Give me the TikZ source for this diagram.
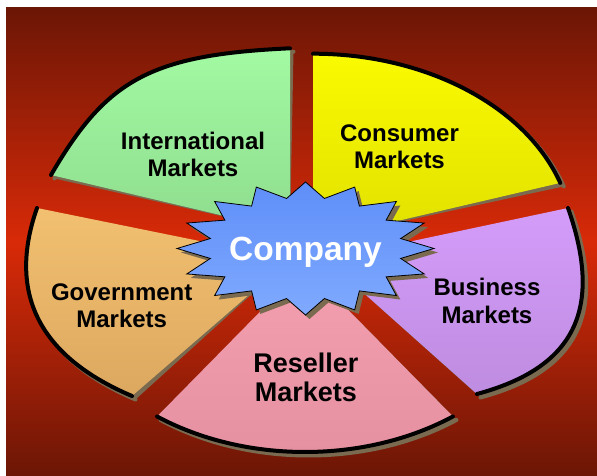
\documentclass[tikz,border=0pt]{standalone}
\usepackage{fontspec}
\setmainfont{Liberation Sans}
\definecolor{bgdark}{HTML}{6C1606}
\definecolor{bgmid}{HTML}{D82A08}
\definecolor{shadowc}{HTML}{7A6A50}
\definecolor{intlTop}{HTML}{A2FAA2}
\definecolor{intlBot}{HTML}{8EDC8E}
\definecolor{consTop}{HTML}{FAFA00}
\definecolor{consBot}{HTML}{E0E000}
\definecolor{busTop}{HTML}{D49CFA}
\definecolor{busBot}{HTML}{BE8CE0}
\definecolor{resTop}{HTML}{F5A0B0}
\definecolor{resBot}{HTML}{E490A0}
\definecolor{govTop}{HTML}{F2C070}
\definecolor{govBot}{HTML}{DCA860}
\definecolor{starTop}{HTML}{5E8EF8}
\definecolor{starBot}{HTML}{80AAFF}
\tikzset{
  arcline/.style={line width=4pt, line cap=round},
  shadowshift/.style={shift={(3.5,-3.5)}},
  marketlabel/.style={font=\bfseries\fontsize{24}{26.7}\selectfont, align=center, inner sep=0pt, text=black},
}
% outer arcs of the five slices
\def\intlArc{(290,427.7) .. controls (150,421.3) and (106.3,396) .. (51,301)}
\def\consArc{([shift={(313,235.3)}]90:260 and 187) arc[start angle=90, end angle=18, x radius=260, y radius=187]}
\def\busArc{(568,268) .. controls (604.3,164.6) and (573,108) .. (477,82)}
\def\resArc{([shift={(305,210)}]234:251.7 and 186) arc[start angle=234, end angle=306, x radius=251.7, y radius=186]}
\def\govArc{(37,268) .. controls (4,174) and (49.2,115.1) .. (132,80)}
\def\starPath{(0:128.5 and 66.5) \foreach \i in {0,...,15}{ -- ({\i*22.5+11.25}:97 and 51) -- ({\i*22.5+22.5}:128.5 and 66.5)} -- cycle}
\begin{document}
\begin{tikzpicture}[x=1pt,y=1pt]
\useasboundingbox (0,0) rectangle (597,476);
\fill[white] (0,0) rectangle (597,476);
\shade[top color=bgdark, bottom color=bgdark, middle color=bgmid] (6,0) rectangle (597,468);
% apexes (hidden under the star)
\coordinate (intlApex) at (290,244.5);
\coordinate (consApex) at (313,235.3);
\coordinate (busApex) at (326,216.6);
\coordinate (resApex) at (305,210);
\coordinate (govApex) at (290,216.6);
% shadows
\begin{scope}[shadowshift]
  \fill[shadowc] (intlApex) -- \intlArc -- cycle;
  \draw[shadowc, arcline] \intlArc;
  \fill[shadowc] (consApex) -- \consArc -- cycle;
  \draw[shadowc, arcline] \consArc;
  \fill[shadowc] (busApex) -- \busArc -- cycle;
  \draw[shadowc, arcline] \busArc;
  \fill[shadowc] (resApex) -- \resArc -- cycle;
  \draw[shadowc, arcline] \resArc;
  \fill[shadowc] (govApex) -- \govArc -- cycle;
  \draw[shadowc, arcline] \govArc;
\end{scope}
% slices
\shade[top color=intlTop, bottom color=intlBot] (intlApex) -- \intlArc -- cycle;
\draw[arcline] \intlArc;
\shade[top color=consTop, bottom color=consBot] (consApex) -- \consArc -- cycle;
\draw[arcline] \consArc;
\shade[top color=busTop, bottom color=busBot] (busApex) -- \busArc -- cycle;
\draw[arcline] \busArc;
\shade[top color=resTop, bottom color=resBot] (resApex) -- \resArc -- cycle;
\draw[arcline] \resArc;
\shade[top color=govTop, bottom color=govBot] (govApex) -- \govArc -- cycle;
\draw[arcline] \govArc;
% star
\begin{scope}[shift={(305.5,227.5)}]
  \fill[shadowc, shift={(4,-4)}] \starPath;
  \shadedraw[top color=starTop, bottom color=starBot, draw=black, line width=0.8pt] \starPath;
\end{scope}
\node[font=\bfseries\fontsize{33.5}{36}\selectfont, text=white, anchor=base, inner sep=0pt] (company) at (305.5,215.3) {Company};
% labels
\node[marketlabel] (intl) at (193,321.3) {International\\Markets};
\node[marketlabel] (cons) at (399.5,329.6) {Consumer\\Markets};
\node[marketlabel] (gov) at (121.7,170.3) {Government\\Markets};
\node[marketlabel, font=\bfseries\fontsize{24}{27.3}\selectfont] (bus) at (487,175) {Business\\Markets};
\node[marketlabel, font=\bfseries\fontsize{27}{29}\selectfont] (res) at (305.8,98.5) {Reseller\\Markets};
\end{tikzpicture}
\end{document}
